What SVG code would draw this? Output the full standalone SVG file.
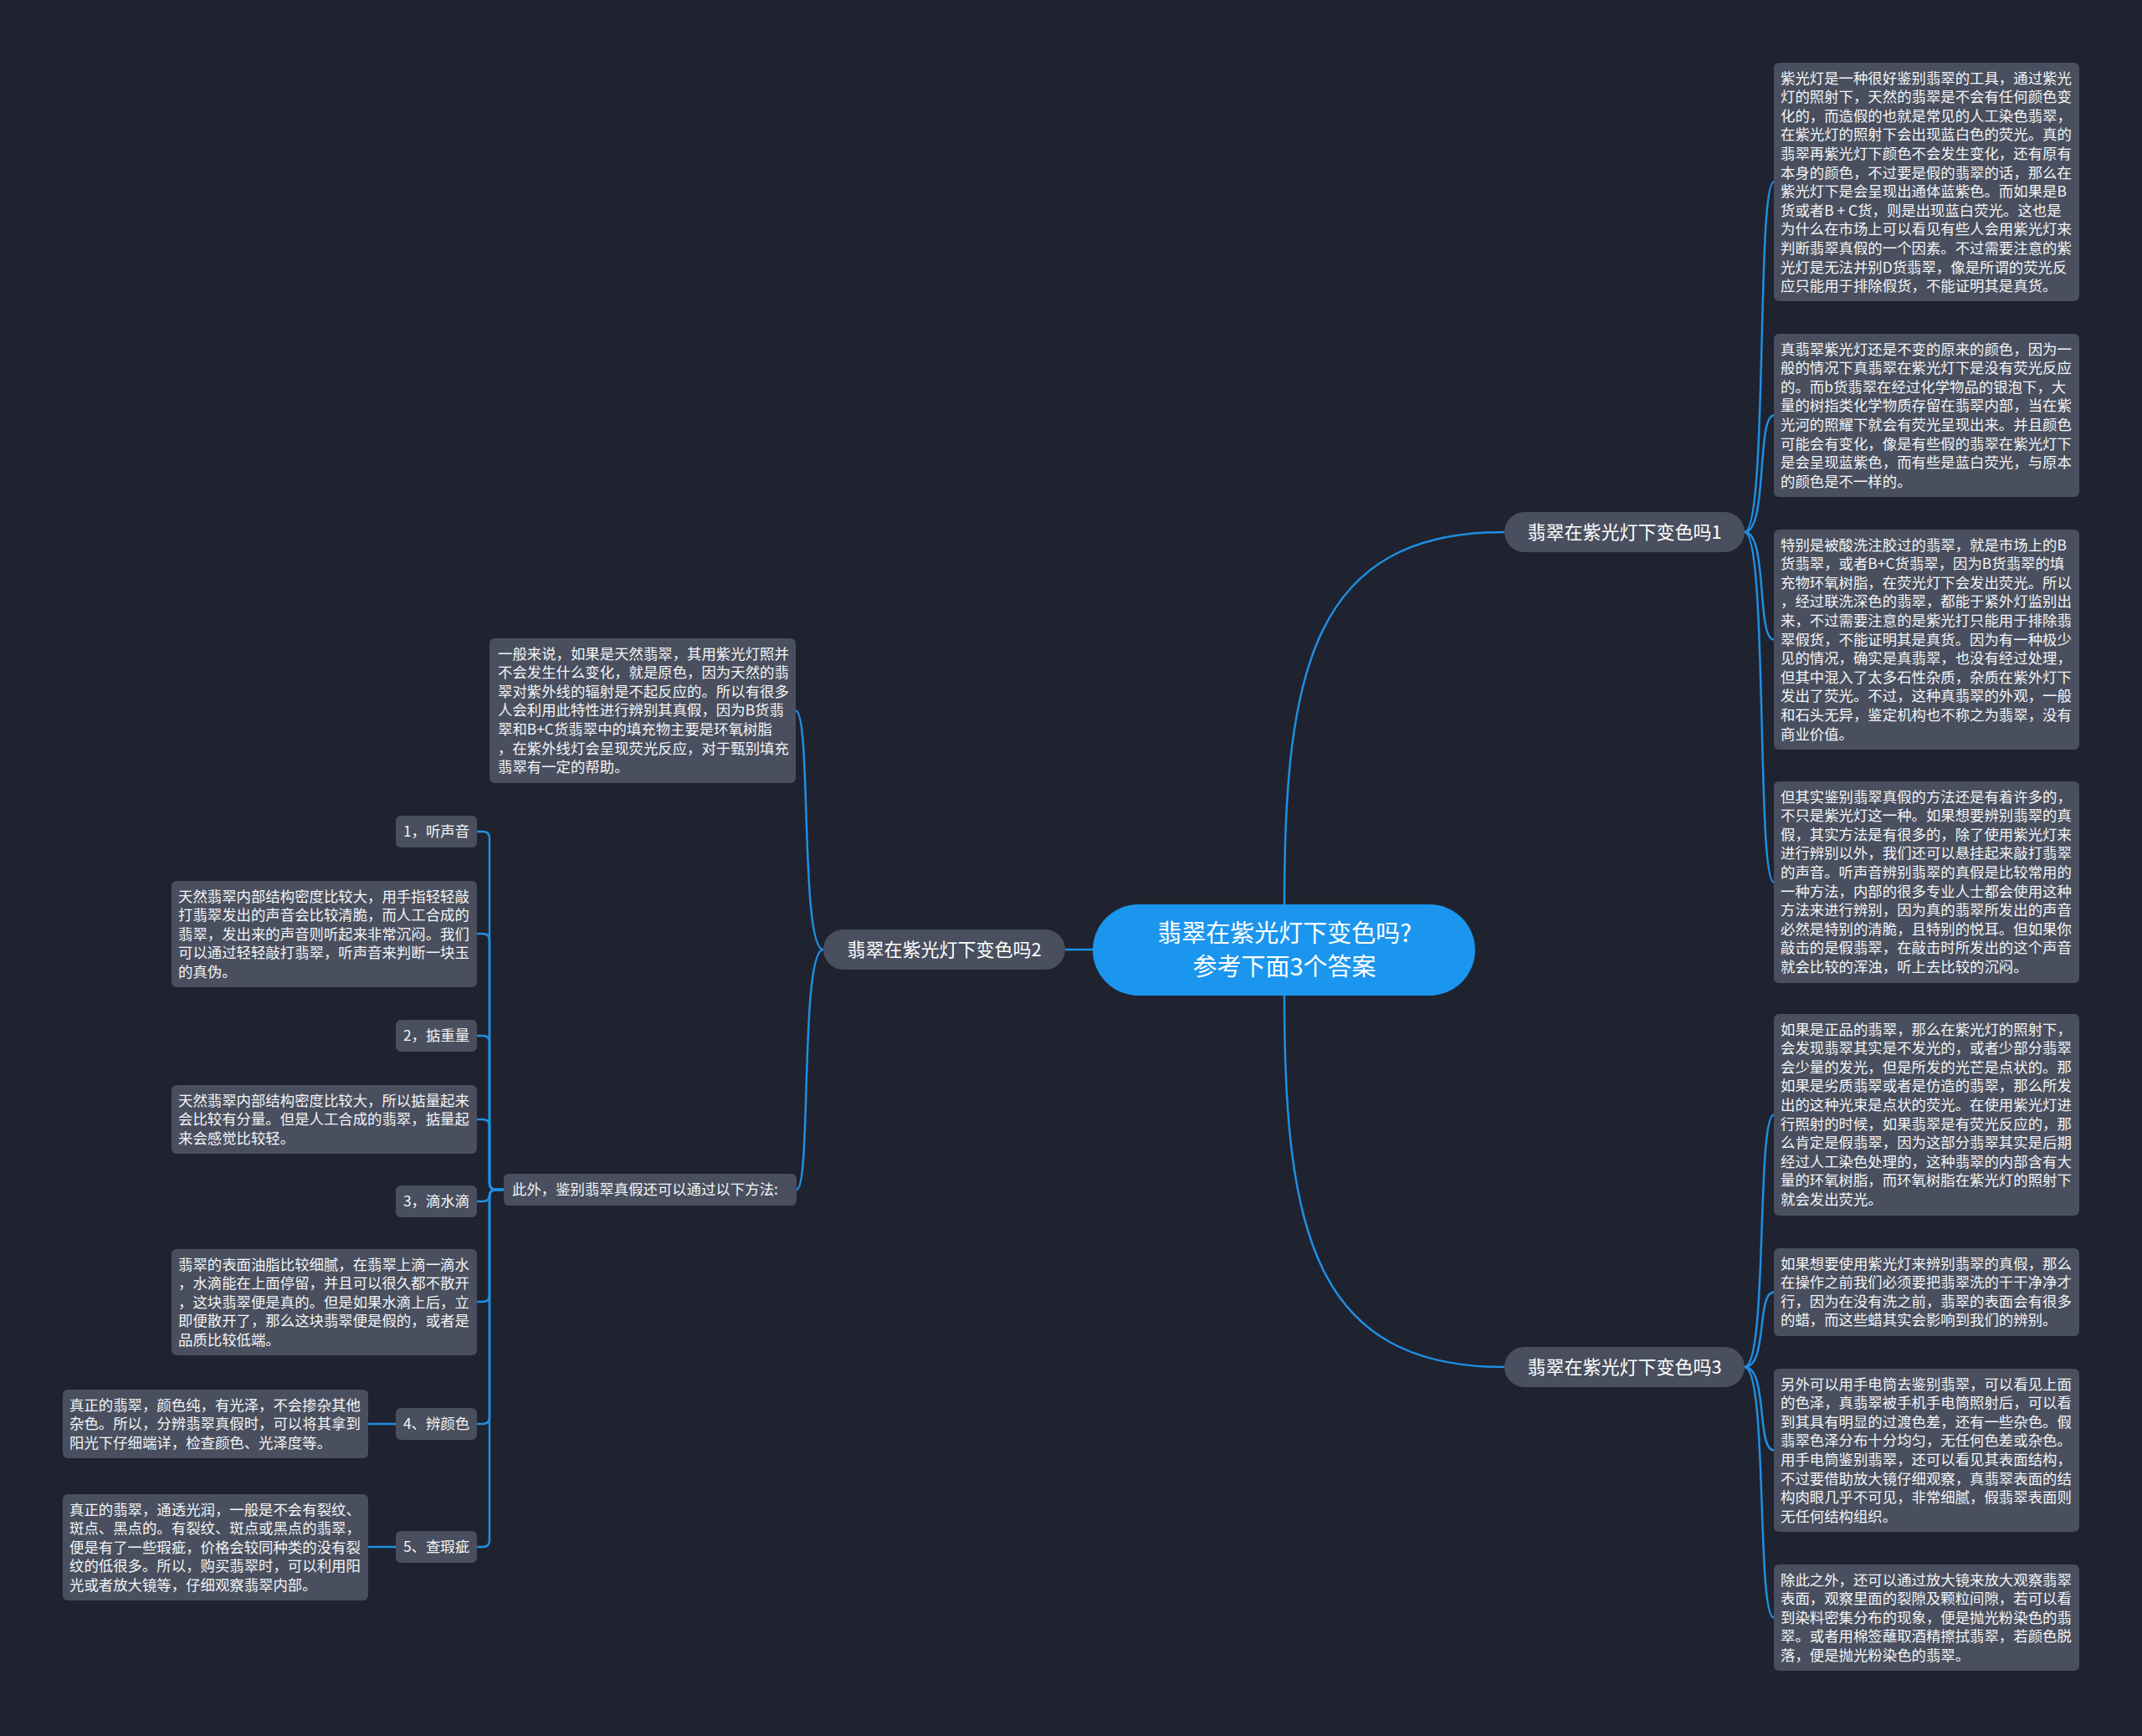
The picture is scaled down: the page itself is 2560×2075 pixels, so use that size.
<svg xmlns="http://www.w3.org/2000/svg" width="2560" height="2075" viewBox="0 0 2560 2075">
<style>
.bg{fill:#1f2330}
.box{fill:#494f5e}
.t{font-family:"Noto Sans CJK SC","Noto Sans",sans-serif;font-size:17.4px;fill:#f4f5f7}
.bt{font-family:"Noto Sans CJK SC","Noto Sans",sans-serif;font-size:22px;fill:#ffffff;text-anchor:middle}
.ct{font-family:"Noto Sans CJK SC","Noto Sans",sans-serif;font-size:29px;fill:#ffffff;text-anchor:middle}
.st{font-family:"Noto Sans CJK SC","Noto Sans",sans-serif;font-size:17.4px;fill:#f4f5f7;text-anchor:middle}
.ln{fill:none;stroke:#1f8fe3;stroke-width:2.5}
</style>
<rect class="bg" x="0" y="0" width="2560" height="2075"/>
<g id="connectors">
<path class="ln" d="M1535 1081 C1535 800 1570 636 1798 636"/>
<path class="ln" d="M1535 1190 C1535 1470 1570 1634 1798 1634"/>
<path class="ln" d="M1306 1135 H1273"/>
<path class="ln" d="M2085 636 C2113 636 2099 217.5 2120 217.5"/>
<path class="ln" d="M2085 636 C2113 636 2099 496.5 2120 496.5"/>
<path class="ln" d="M2085 636 C2113 636 2099 764.5 2120 764.5"/>
<path class="ln" d="M2085 636 C2113 636 2099 1054.5 2120 1054.5"/>
<path class="ln" d="M2085 1634 C2113 1634 2099 1332.5 2120 1332.5"/>
<path class="ln" d="M2085 1634 C2113 1634 2099 1544.5 2120 1544.5"/>
<path class="ln" d="M2085 1634 C2113 1634 2099 1733.5 2120 1733.5"/>
<path class="ln" d="M2085 1634 C2113 1634 2099 1933.5 2120 1933.5"/>
<path class="ln" d="M984 1135 C956 1135 970 849.5 951 849.5"/>
<path class="ln" d="M984 1135 C956 1135 970 1422 952 1422"/>
<path class="ln" d="M602 1422 H593 Q585 1422 585 1414 V1002 Q585 994 577 994 H570"/>
<path class="ln" d="M602 1422 H593 Q585 1422 585 1414 V1124 Q585 1116 577 1116 H570"/>
<path class="ln" d="M602 1422 H593 Q585 1422 585 1414 V1246 Q585 1238 577 1238 H570"/>
<path class="ln" d="M602 1422 H593 Q585 1422 585 1414 V1346 Q585 1338 577 1338 H570"/>
<path class="ln" d="M602 1422 H593 Q585 1422 585 1430 V1428 Q585 1436 577 1436 H570"/>
<path class="ln" d="M602 1422 H593 Q585 1422 585 1430 V1548 Q585 1556 577 1556 H570"/>
<path class="ln" d="M602 1422 H593 Q585 1422 585 1430 V1694 Q585 1702 577 1702 H570"/>
<path class="ln" d="M602 1422 H593 Q585 1422 585 1430 V1841 Q585 1849 577 1849 H570"/>
<path class="ln" d="M473 1702 H440"/>
<path class="ln" d="M473 1849 H440"/>
</g>
<g id="root">
<rect x="1306" y="1081" width="457" height="109" rx="54.5" fill="#1b96ee"/>
<text class="ct" x="1535" y="1126">翡翠在紫光灯下变色吗?</text>
<text class="ct" x="1535" y="1166">参考下面3个答案</text>
</g>
<g id="b1">
<rect class="box" x="1798" y="612" width="287" height="48" rx="24"/>
<text class="bt" x="1941.5" y="644">翡翠在紫光灯下变色吗1</text>
</g>
<g id="b2">
<rect class="box" x="984" y="1111" width="289" height="48" rx="24"/>
<text class="bt" x="1128.5" y="1143">翡翠在紫光灯下变色吗2</text>
</g>
<g id="b3">
<rect class="box" x="1798" y="1610" width="287" height="48" rx="24"/>
<text class="bt" x="1941.5" y="1642">翡翠在紫光灯下变色吗3</text>
</g>
<g id="r1">
<rect class="box" x="2120" y="75" width="365" height="285" rx="6"/>
<text class="t" x="2128" y="99.6"><tspan x="2128" dy="0">紫光灯是一种很好鉴别翡翠的工具，通过紫光</tspan><tspan x="2128" dy="22.6">灯的照射下，天然的翡翠是不会有任何颜色变</tspan><tspan x="2128" dy="22.6">化的，而造假的也就是常见的人工染色翡翠，</tspan><tspan x="2128" dy="22.6">在紫光灯的照射下会出现蓝白色的荧光。真的</tspan><tspan x="2128" dy="22.6">翡翠再紫光灯下颜色不会发生变化，还有原有</tspan><tspan x="2128" dy="22.6">本身的颜色，不过要是假的翡翠的话，那么在</tspan><tspan x="2128" dy="22.6">紫光灯下是会呈现出通体蓝紫色。而如果是B</tspan><tspan x="2128" dy="22.6">货或者B + C货，则是出现蓝白荧光。这也是</tspan><tspan x="2128" dy="22.6">为什么在市场上可以看见有些人会用紫光灯来</tspan><tspan x="2128" dy="22.6">判断翡翠真假的一个因素。不过需要注意的紫</tspan><tspan x="2128" dy="22.6">光灯是无法并别D货翡翠，像是所谓的荧光反</tspan><tspan x="2128" dy="22.6">应只能用于排除假货，不能证明其是真货。</tspan></text>
</g>
<g id="r2">
<rect class="box" x="2120" y="399" width="365" height="195" rx="6"/>
<text class="t" x="2128" y="423.6"><tspan x="2128" dy="0">真翡翠紫光灯还是不变的原来的颜色，因为一</tspan><tspan x="2128" dy="22.6">般的情况下真翡翠在紫光灯下是没有荧光反应</tspan><tspan x="2128" dy="22.6">的。而b货翡翠在经过化学物品的银泡下，大</tspan><tspan x="2128" dy="22.6">量的树指类化学物质存留在翡翠内部，当在紫</tspan><tspan x="2128" dy="22.6">光河的照耀下就会有荧光呈现出来。并且颜色</tspan><tspan x="2128" dy="22.6">可能会有变化，像是有些假的翡翠在紫光灯下</tspan><tspan x="2128" dy="22.6">是会呈现蓝紫色，而有些是蓝白荧光，与原本</tspan><tspan x="2128" dy="22.6">的颜色是不一样的。</tspan></text>
</g>
<g id="r3">
<rect class="box" x="2120" y="633" width="365" height="263" rx="6"/>
<text class="t" x="2128" y="657.6"><tspan x="2128" dy="0">特别是被酸洗注胶过的翡翠，就是市场上的B</tspan><tspan x="2128" dy="22.6">货翡翠，或者B+C货翡翠，因为B货翡翠的填</tspan><tspan x="2128" dy="22.6">充物环氧树脂，在荧光灯下会发出荧光。所以</tspan><tspan x="2128" dy="22.6">，经过联洗深色的翡翠，都能于紧外灯监别出</tspan><tspan x="2128" dy="22.6">来，不过需要注意的是紫光打只能用于排除翡</tspan><tspan x="2128" dy="22.6">翠假货，不能证明其是真货。因为有一种极少</tspan><tspan x="2128" dy="22.6">见的情况，确实是真翡翠，也没有经过处理，</tspan><tspan x="2128" dy="22.6">但其中混入了太多石性杂质，杂质在紫外灯下</tspan><tspan x="2128" dy="22.6">发出了荧光。不过，这种真翡翠的外观，一般</tspan><tspan x="2128" dy="22.6">和石头无异，鉴定机构也不称之为翡翠，没有</tspan><tspan x="2128" dy="22.6">商业价值。</tspan></text>
</g>
<g id="r4">
<rect class="box" x="2120" y="934" width="365" height="241" rx="6"/>
<text class="t" x="2128" y="958.6"><tspan x="2128" dy="0">但其实鉴别翡翠真假的方法还是有着许多的，</tspan><tspan x="2128" dy="22.6">不只是紫光灯这一种。如果想要辨别翡翠的真</tspan><tspan x="2128" dy="22.6">假，其实方法是有很多的，除了使用紫光灯来</tspan><tspan x="2128" dy="22.6">进行辨别以外，我们还可以悬挂起来敲打翡翠</tspan><tspan x="2128" dy="22.6">的声音。听声音辨别翡翠的真假是比较常用的</tspan><tspan x="2128" dy="22.6">一种方法，内部的很多专业人士都会使用这种</tspan><tspan x="2128" dy="22.6">方法来进行辨别，因为真的翡翠所发出的声音</tspan><tspan x="2128" dy="22.6">必然是特别的清脆，且特别的悦耳。但如果你</tspan><tspan x="2128" dy="22.6">敲击的是假翡翠，在敲击时所发出的这个声音</tspan><tspan x="2128" dy="22.6">就会比较的浑浊，听上去比较的沉闷。</tspan></text>
</g>
<g id="r5">
<rect class="box" x="2120" y="1212" width="365" height="241" rx="6"/>
<text class="t" x="2128" y="1236.6"><tspan x="2128" dy="0">如果是正品的翡翠，那么在紫光灯的照射下，</tspan><tspan x="2128" dy="22.6">会发现翡翠其实是不发光的，或者少部分翡翠</tspan><tspan x="2128" dy="22.6">会少量的发光，但是所发的光芒是点状的。那</tspan><tspan x="2128" dy="22.6">如果是劣质翡翠或者是仿造的翡翠，那么所发</tspan><tspan x="2128" dy="22.6">出的这种光束是点状的荧光。在使用紫光灯进</tspan><tspan x="2128" dy="22.6">行照射的时候，如果翡翠是有荧光反应的，那</tspan><tspan x="2128" dy="22.6">么肯定是假翡翠，因为这部分翡翠其实是后期</tspan><tspan x="2128" dy="22.6">经过人工染色处理的，这种翡翠的内部含有大</tspan><tspan x="2128" dy="22.6">量的环氧树脂，而环氧树脂在紫光灯的照射下</tspan><tspan x="2128" dy="22.6">就会发出荧光。</tspan></text>
</g>
<g id="r6">
<rect class="box" x="2120" y="1492" width="365" height="105" rx="6"/>
<text class="t" x="2128" y="1516.6"><tspan x="2128" dy="0">如果想要使用紫光灯来辨别翡翠的真假，那么</tspan><tspan x="2128" dy="22.6">在操作之前我们必须要把翡翠洗的干干净净才</tspan><tspan x="2128" dy="22.6">行，因为在没有洗之前，翡翠的表面会有很多</tspan><tspan x="2128" dy="22.6">的蜡，而这些蜡其实会影响到我们的辨别。</tspan></text>
</g>
<g id="r7">
<rect class="box" x="2120" y="1636" width="365" height="195" rx="6"/>
<text class="t" x="2128" y="1660.6"><tspan x="2128" dy="0">另外可以用手电筒去鉴别翡翠，可以看见上面</tspan><tspan x="2128" dy="22.6">的色泽，真翡翠被手机手电筒照射后，可以看</tspan><tspan x="2128" dy="22.6">到其具有明显的过渡色差，还有一些杂色。假</tspan><tspan x="2128" dy="22.6">翡翠色泽分布十分均匀，无任何色差或杂色。</tspan><tspan x="2128" dy="22.6">用手电筒鉴别翡翠，还可以看见其表面结构，</tspan><tspan x="2128" dy="22.6">不过要借助放大镜仔细观察，真翡翠表面的结</tspan><tspan x="2128" dy="22.6">构肉眼几乎不可见，非常细腻，假翡翠表面则</tspan><tspan x="2128" dy="22.6">无任何结构组织。</tspan></text>
</g>
<g id="r8">
<rect class="box" x="2120" y="1870" width="365" height="127" rx="6"/>
<text class="t" x="2128" y="1894.6"><tspan x="2128" dy="0">除此之外，还可以通过放大镜来放大观察翡翠</tspan><tspan x="2128" dy="22.6">表面，观察里面的裂隙及颗粒间隙，若可以看</tspan><tspan x="2128" dy="22.6">到染料密集分布的现象，便是抛光粉染色的翡</tspan><tspan x="2128" dy="22.6">翠。或者用棉签蘸取酒精擦拭翡翠，若颜色脱</tspan><tspan x="2128" dy="22.6">落，便是抛光粉染色的翡翠。</tspan></text>
</g>
<g id="l1">
<rect class="box" x="585" y="763" width="366" height="173" rx="6"/>
<text class="t" x="595" y="787.6"><tspan x="595" dy="0">一般来说，如果是天然翡翠，其用紫光灯照并</tspan><tspan x="595" dy="22.6">不会发生什么变化，就是原色，因为天然的翡</tspan><tspan x="595" dy="22.6">翠对紫外线的辐射是不起反应的。所以有很多</tspan><tspan x="595" dy="22.6">人会利用此特性进行辨别其真假，因为B货翡</tspan><tspan x="595" dy="22.6">翠和B+C货翡翠中的填充物主要是环氧树脂</tspan><tspan x="595" dy="22.6">，在紫外线灯会呈现荧光反应，对于甄别填充</tspan><tspan x="595" dy="22.6">翡翠有一定的帮助。</tspan></text>
</g>
<g id="l2">
<rect class="box" x="602" y="1403" width="350" height="38" rx="6"/>
<text class="t" x="612" y="1428">此外，鉴别翡翠真假还可以通过以下方法:</text>
</g>
<g id="s1">
<rect class="box" x="473" y="975" width="97" height="38" rx="6"/>
<text class="st" x="521.5" y="1000">1，听声音</text>
</g>
<g id="a">
<rect class="box" x="205" y="1053" width="365" height="127" rx="6"/>
<text class="t" x="213" y="1077.6"><tspan x="213" dy="0">天然翡翠内部结构密度比较大，用手指轻轻敲</tspan><tspan x="213" dy="22.6">打翡翠发出的声音会比较清脆，而人工合成的</tspan><tspan x="213" dy="22.6">翡翠，发出来的声音则听起来非常沉闷。我们</tspan><tspan x="213" dy="22.6">可以通过轻轻敲打翡翠，听声音来判断一块玉</tspan><tspan x="213" dy="22.6">的真伪。</tspan></text>
</g>
<g id="s2">
<rect class="box" x="473" y="1219" width="97" height="38" rx="6"/>
<text class="st" x="521.5" y="1244">2，掂重量</text>
</g>
<g id="b">
<rect class="box" x="205" y="1297" width="365" height="82" rx="6"/>
<text class="t" x="213" y="1321.6"><tspan x="213" dy="0">天然翡翠内部结构密度比较大，所以掂量起来</tspan><tspan x="213" dy="22.6">会比较有分量。但是人工合成的翡翠，掂量起</tspan><tspan x="213" dy="22.6">来会感觉比较轻。</tspan></text>
</g>
<g id="s3">
<rect class="box" x="473" y="1417" width="97" height="38" rx="6"/>
<text class="st" x="521.5" y="1442">3，滴水滴</text>
</g>
<g id="c">
<rect class="box" x="205" y="1493" width="365" height="127" rx="6"/>
<text class="t" x="213" y="1517.6"><tspan x="213" dy="0">翡翠的表面油脂比较细腻，在翡翠上滴一滴水</tspan><tspan x="213" dy="22.6">，水滴能在上面停留，并且可以很久都不散开</tspan><tspan x="213" dy="22.6">，这块翡翠便是真的。但是如果水滴上后，立</tspan><tspan x="213" dy="22.6">即便散开了，那么这块翡翠便是假的，或者是</tspan><tspan x="213" dy="22.6">品质比较低端。</tspan></text>
</g>
<g id="s4">
<rect class="box" x="473" y="1683" width="97" height="38" rx="6"/>
<text class="st" x="521.5" y="1708">4、辨颜色</text>
</g>
<g id="d">
<rect class="box" x="75" y="1661" width="365" height="82" rx="6"/>
<text class="t" x="83" y="1685.6"><tspan x="83" dy="0">真正的翡翠，颜色纯，有光泽，不会掺杂其他</tspan><tspan x="83" dy="22.6">杂色。所以，分辨翡翠真假时，可以将其拿到</tspan><tspan x="83" dy="22.6">阳光下仔细端详，检查颜色、光泽度等。</tspan></text>
</g>
<g id="s5">
<rect class="box" x="473" y="1830" width="97" height="38" rx="6"/>
<text class="st" x="521.5" y="1855">5、查瑕疵</text>
</g>
<g id="e">
<rect class="box" x="75" y="1786" width="365" height="127" rx="6"/>
<text class="t" x="83" y="1810.6"><tspan x="83" dy="0">真正的翡翠，通透光润，一般是不会有裂纹、</tspan><tspan x="83" dy="22.6">斑点、黑点的。有裂纹、斑点或黑点的翡翠，</tspan><tspan x="83" dy="22.6">便是有了一些瑕疵，价格会较同种类的没有裂</tspan><tspan x="83" dy="22.6">纹的低很多。所以，购买翡翠时，可以利用阳</tspan><tspan x="83" dy="22.6">光或者放大镜等，仔细观察翡翠内部。</tspan></text>
</g>
</svg>
